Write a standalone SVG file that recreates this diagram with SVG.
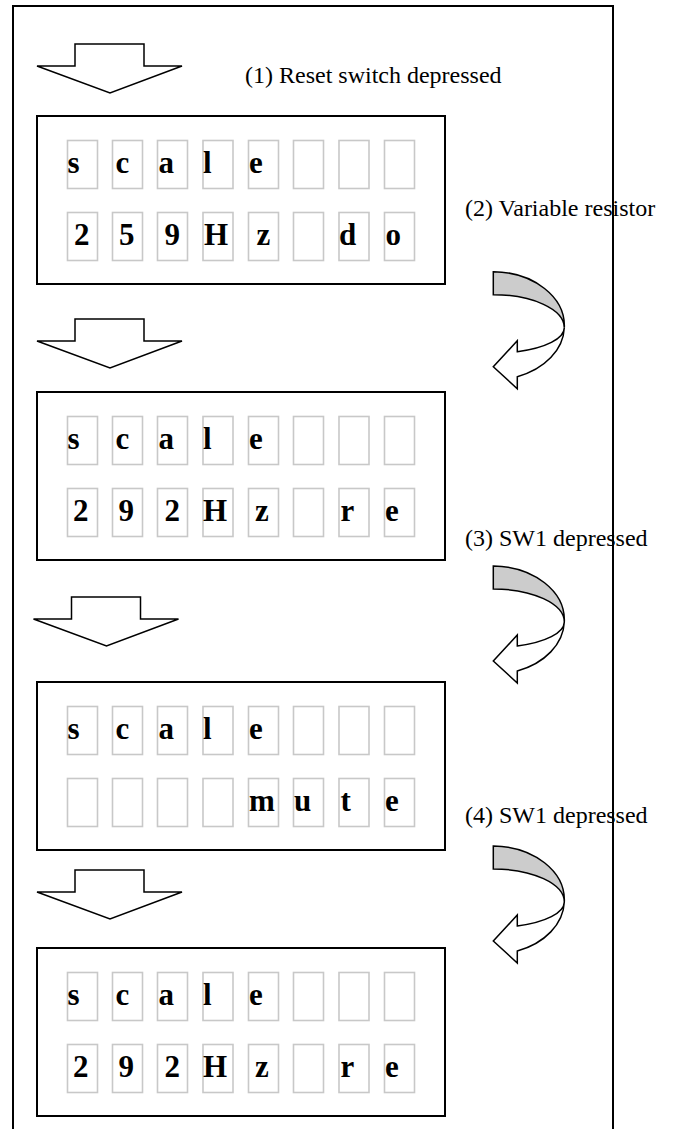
<svg xmlns="http://www.w3.org/2000/svg" xmlns:xlink="http://www.w3.org/1999/xlink" width="675" height="1129" viewBox="0 0 675 1129">
<style>
.frame{fill:none;stroke:#000;stroke-width:2}
.box{fill:#fff;stroke:#000;stroke-width:2}
.cell{fill:none;stroke:#c8c8c8;stroke-width:1.6}
.down{fill:#fff;stroke:#000;stroke-width:1.5;stroke-linejoin:miter}
.band{fill:#cccccc;stroke:#000;stroke-width:1.5}
.front{fill:#fff;stroke:#000;stroke-width:1.5}
.lbl{font-family:"Liberation Serif","Times New Roman",serif;font-size:24px;fill:#000}
.ch{font-family:"Liberation Serif","Times New Roman",serif;font-size:31px;font-weight:bold;fill:#000}
</style>
<defs>
<g id="cells">
<rect class="cell" x="30.5" y="24.5" width="30" height="48"/>
<rect class="cell" x="75.5" y="24.5" width="30" height="48"/>
<rect class="cell" x="120.5" y="24.5" width="30" height="48"/>
<rect class="cell" x="166" y="24.5" width="30" height="48"/>
<rect class="cell" x="211.5" y="24.5" width="30" height="48"/>
<rect class="cell" x="256.5" y="24.5" width="30" height="48"/>
<rect class="cell" x="302" y="24.5" width="30" height="48"/>
<rect class="cell" x="347.5" y="24.5" width="30" height="48"/>
<rect class="cell" x="30.5" y="96.5" width="30" height="48"/>
<rect class="cell" x="75.5" y="96.5" width="30" height="48"/>
<rect class="cell" x="120.5" y="96.5" width="30" height="48"/>
<rect class="cell" x="166" y="96.5" width="30" height="48"/>
<rect class="cell" x="211.5" y="96.5" width="30" height="48"/>
<rect class="cell" x="256.5" y="96.5" width="30" height="48"/>
<rect class="cell" x="302" y="96.5" width="30" height="48"/>
<rect class="cell" x="347.5" y="96.5" width="30" height="48"/>
</g>
<g id="scale">
<text class="ch" x="30.5" y="56.5">s</text>
<text class="ch" x="78.5" y="56.5">c</text>
<text class="ch" x="121.5" y="56.5">a</text>
<text class="ch" x="166" y="56.5">l</text>
<text class="ch" x="212" y="56.5">e</text>
</g>
<g id="curl">
<path class="band" d="M0,0 A72,54 0 0 1 71,56 A71,33 0 0 0 0,23 Z"/>
<path class="front" d="M71,56 A72,54 0 0 1 24,105 L24,117 L0,95 L24,69 L24,80 A71,25.5 0 0 0 71,56 Z"/>
</g>
<polygon id="down" class="down" points="0,0 69,0 69,22 107,22 35,49 -38,22 0,22"/>
</defs>

<path class="frame" d="M13,1135 V6 H613 V1135"/>

<g id="connectors">
<use xlink:href="#down" x="75" y="44"/>
<use xlink:href="#down" x="75" y="319"/>
<use xlink:href="#down" x="71.5" y="597"/>
<use xlink:href="#down" x="75" y="870"/>
<use xlink:href="#curl" x="493.3" y="271.7"/>
<use xlink:href="#curl" x="493.3" y="566"/>
<use xlink:href="#curl" x="493.3" y="846"/>
</g>

<g id="labels">
<text class="lbl" x="245" y="83">(1) Reset switch depressed</text>
<text class="lbl" x="465" y="216">(2) Variable resistor</text>
<text class="lbl" x="465" y="546">(3) SW1 depressed</text>
<text class="lbl" x="465" y="823">(4) SW1 depressed</text>
</g>

<g id="display1" transform="translate(37,116)">
<rect class="box" x="0" y="0" width="408" height="168"/>
<use xlink:href="#cells"/>
<use xlink:href="#scale"/>
<text class="ch" x="37" y="128.5">2</text>
<text class="ch" x="82" y="128.5">5</text>
<text class="ch" x="127.5" y="128.5">9</text>
<text class="ch" x="167" y="128.5">H</text>
<text class="ch" x="219.5" y="128.5">z</text>
<text class="ch" x="302" y="128.5">d</text>
<text class="ch" x="348.5" y="128.5">o</text>
</g>

<g id="display2" transform="translate(37,392)">
<rect class="box" x="0" y="0" width="408" height="168"/>
<use xlink:href="#cells"/>
<use xlink:href="#scale"/>
<text class="ch" x="36" y="128.5">2</text>
<text class="ch" x="81.5" y="128.5">9</text>
<text class="ch" x="127.5" y="128.5">2</text>
<text class="ch" x="166" y="128.5">H</text>
<text class="ch" x="218" y="128.5">z</text>
<text class="ch" x="303.5" y="128.5">r</text>
<text class="ch" x="348" y="128.5">e</text>
</g>

<g id="display3" transform="translate(37,682)">
<rect class="box" x="0" y="0" width="408" height="168"/>
<use xlink:href="#cells"/>
<use xlink:href="#scale"/>
<text class="ch" x="212" y="128.5">m</text>
<text class="ch" x="257" y="128.5">u</text>
<text class="ch" x="303.5" y="128.5">t</text>
<text class="ch" x="348" y="128.5">e</text>
</g>

<g id="display4" transform="translate(37,948)">
<rect class="box" x="0" y="0" width="408" height="168"/>
<use xlink:href="#cells"/>
<use xlink:href="#scale"/>
<text class="ch" x="36" y="128.5">2</text>
<text class="ch" x="81.5" y="128.5">9</text>
<text class="ch" x="127.5" y="128.5">2</text>
<text class="ch" x="166" y="128.5">H</text>
<text class="ch" x="218" y="128.5">z</text>
<text class="ch" x="303.5" y="128.5">r</text>
<text class="ch" x="348" y="128.5">e</text>
</g>
</svg>
